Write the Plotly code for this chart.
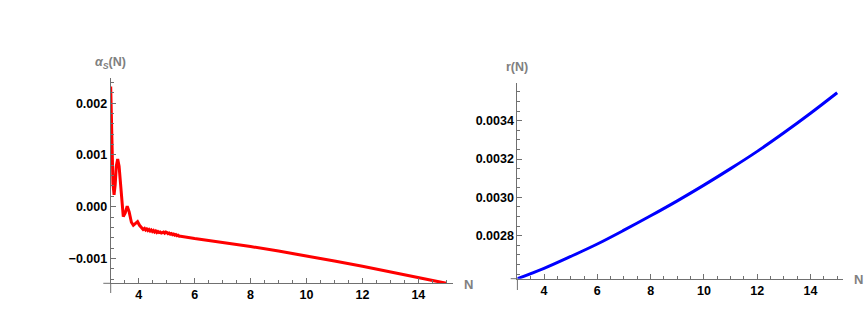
import plotly.graph_objects as go

# ---- data ----
N_alpha = [3.0, 3.02, 3.05, 3.08, 3.12, 3.16, 3.2, 3.25, 3.3, 3.35, 3.4, 3.45, 3.52, 3.59,
           3.66, 3.74, 3.81, 3.88, 3.96, 4.03, 4.11, 4.16, 4.21, 4.25, 4.29, 4.33, 4.37,
           4.41, 4.45, 4.49, 4.53, 4.57, 4.61, 4.65, 4.69, 4.73, 4.77, 4.81, 4.85, 4.89,
           4.93, 4.97, 5.01, 5.05, 5.09, 5.13, 5.17, 5.21, 5.25, 5.29, 5.33, 5.37, 5.41,
           5.45, 5.5, 5.6, 6.0, 6.5, 7.0, 7.5, 8.0, 9.0, 10.0, 11.0, 12.0, 13.0, 14.0, 15.0]
alpha_S = [0.00232, 0.00180, 0.00100, 0.00045, 0.00023, 0.00042, 0.00078, 0.00092, 0.00078,
           0.00040, 0.00005, -0.00019, -0.00012, 0.00001, -0.00010, -0.00030, -0.00036,
           -0.00033, -0.00029, -0.00036, -0.00042, -0.00044, -0.00042, -0.00045, -0.00043,
           -0.00046, -0.00044, -0.00047, -0.00045, -0.00048, -0.00046, -0.00049, -0.00047,
           -0.00050, -0.00048, -0.00050, -0.00049, -0.00051, -0.00050, -0.00049, -0.00051,
           -0.00049, -0.00050, -0.00052, -0.00051, -0.00053, -0.00052, -0.00054, -0.00053,
           -0.00055, -0.00054, -0.00056, -0.00055, -0.00057, -0.00057, -0.00058,
           -0.000615, -0.000652, -0.000690, -0.000729, -0.000770, -0.000858, -0.000950,
           -0.001048, -0.001150, -0.001258, -0.001368, -0.00148]

N_r = [3, 4, 5, 6, 7, 8, 9, 10, 11, 12, 13, 14, 15]
r_N = [0.002576, 0.002630, 0.002692, 0.002757, 0.002829, 0.002904, 0.002982, 0.003064,
       0.003150, 0.003240, 0.003337, 0.003439, 0.003546]

x_ticks = [4, 6, 8, 10, 12, 14]
alpha_ticks = [-0.001, 0.0, 0.001, 0.002]
r_ticks = [0.0028, 0.0030, 0.0032, 0.0034]

W, H = 868, 330
AX = "#707070"
LBL = "#808080"
FONT = "Liberation Sans, Arial, sans-serif"


def px(x):
    return x / W


def py(y):
    return 1 - y / H


fig = go.Figure()
fig.add_trace(go.Scatter(x=N_alpha, y=alpha_S, mode="lines",
                         line=dict(color="#ff0000", width=3), xaxis="x", yaxis="y",
                         showlegend=False))
fig.add_trace(go.Scatter(x=N_r, y=r_N, mode="lines", line_shape="spline",
                         line=dict(color="#0000ff", width=3), xaxis="x2", yaxis="y2",
                         showlegend=False))

common_axis = dict(showline=True, linecolor=AX, linewidth=1, ticks="inside",
                   tickcolor=AX, ticklen=5, tickwidth=1, showgrid=False, zeroline=False,
                   tickfont=dict(family=FONT, size=12.5, color="black", weight="bold"))

fig.update_layout(
    width=W, height=H, margin=dict(l=0, r=0, t=0, b=0),
    paper_bgcolor="white", plot_bgcolor="white",
    xaxis=dict(domain=[px(110.7), px(453.3)], range=[3, 15.25], anchor="y",
               tickvals=x_ticks,
               minor=dict(dtick=0.5, tick0=0, ticks="inside", ticklen=3, tickcolor=AX),
               **common_axis),
    yaxis=dict(domain=[py(283.3), py(78.3)], range=[-0.00148, 0.00248], anchor="x",
               tickvals=alpha_ticks, tickformat=".3f",
               minor=dict(dtick=0.0002, tick0=0, ticks="inside", ticklen=3, tickcolor=AX),
               **common_axis),
    xaxis2=dict(domain=[px(517.4), px(843.3)], range=[3, 15.23], anchor="y2",
                tickvals=x_ticks,
                minor=dict(dtick=0.5, tick0=0, ticks="inside", ticklen=3, tickcolor=AX),
                **common_axis),
    yaxis2=dict(domain=[py(278.7), py(83.3)], range=[0.002576, 0.003595], anchor="x2",
                tickvals=r_ticks, tickformat=".4f",
                minor=dict(dtick=0.00005, tick0=0, ticks="inside", ticklen=3, tickcolor=AX),
                **common_axis),
)

# small axis overhangs (Mathematica style axes crossing)
for (x0, y0, x1, y1) in [(103.3, 283.3, 110.7, 283.3), (110.7, 283.3, 110.7, 293),
                         (510.7, 278.7, 517.4, 278.7), (517.4, 278.7, 517.4, 290)]:
    fig.add_shape(type="line", xref="paper", yref="paper",
                  x0=px(x0), y0=py(y0), x1=px(x1), y1=py(y1),
                  line=dict(color=AX, width=1))

labels = [
    ("<i>α</i><sub><i>S</i></sub>(N)", 110.5, 63, 12.5),
    ("r(N)", 517, 67, 12.5),
    ("N", 468, 284, 13),
    ("N", 858, 279, 13),
]
for text, x, y, s in labels:
    fig.add_annotation(text=text, x=px(x), y=py(y), xref="paper", yref="paper",
                       showarrow=False, xanchor="center", yanchor="middle",
                       font=dict(family=FONT, size=s, color=LBL, weight="bold"))

fig.write_html("out.html")
